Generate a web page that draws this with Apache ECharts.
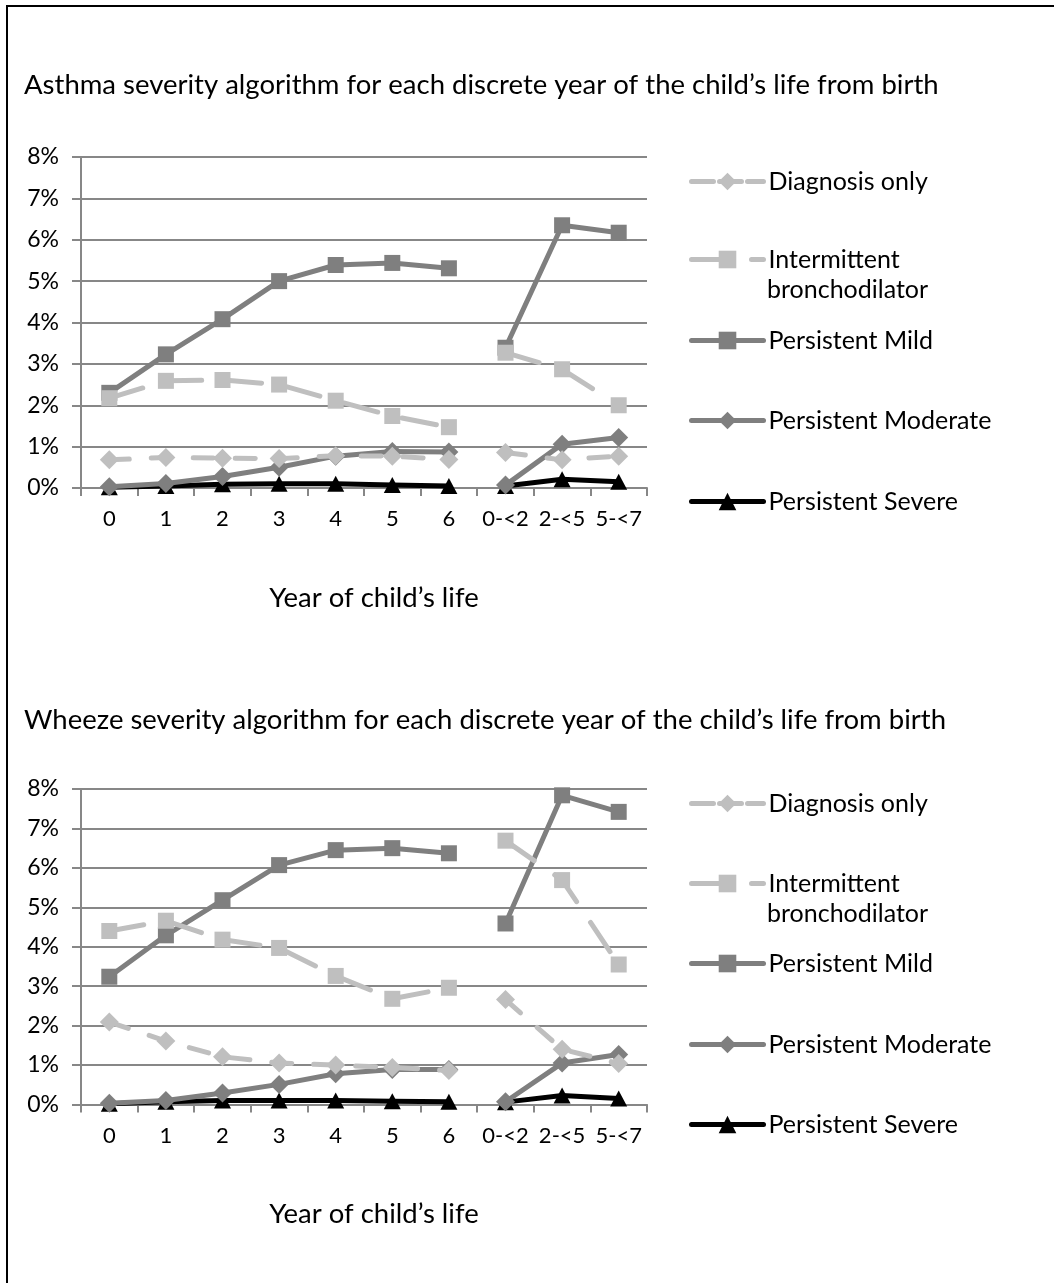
<!DOCTYPE html>
<html><head><meta charset="utf-8">
<script src="https://cdn.jsdelivr.net/npm/echarts@6/dist/echarts.min.js"></script>
<style>
html,body{margin:0;padding:0;background:#fff;overflow:hidden;}
#frame{position:absolute;left:6px;top:5px;width:1200px;height:1400px;border-left:2px solid #000;border-top:2px solid #000;}
#chart{position:absolute;left:0;top:0;width:1054px;height:1283px;}
</style></head><body>
<div id="frame"></div><div id="chart"></div>
<script>
// ---- data ----
const categories = ['0', '1', '2', '3', '4', '5', '6', '0-<2', '2-<5', '5-<7'];
const yTickValues = [0, 1, 2, 3, 4, 5, 6, 7, 8];
const seriesNames = ['Diagnosis only', 'Intermittent bronchodilator', 'Persistent Mild', 'Persistent Moderate', 'Persistent Severe'];
const chartTitles = ['Asthma severity algorithm for each discrete year of the child\u2019s life from birth',
                     'Wheeze severity algorithm for each discrete year of the child\u2019s life from birth'];
const xAxisTitle = 'Year of child\u2019s life';

const asthmaDiagnosisOnly = [0.68, 0.74, 0.72, 0.71, 0.78, 0.77, 0.69, 0.86, 0.68, 0.77];
const asthmaIntermittent  = [2.17, 2.59, 2.61, 2.50, 2.11, 1.74, 1.47, 3.27, 2.87, 2.00];
const asthmaMild          = [2.30, 3.23, 4.08, 5.00, 5.39, 5.44, 5.31, 3.39, 6.35, 6.17];
const asthmaModerate      = [0.03, 0.11, 0.28, 0.50, 0.77, 0.88, 0.87, 0.07, 1.06, 1.22];
const asthmaSevere        = [0.02, 0.05, 0.09, 0.10, 0.10, 0.07, 0.05, 0.05, 0.21, 0.15];

const wheezeDiagnosisOnly = [2.09, 1.61, 1.21, 1.05, 1.00, 0.94, 0.86, 2.66, 1.40, 1.04];
const wheezeIntermittent  = [4.40, 4.66, 4.18, 3.97, 3.26, 2.68, 2.96, 6.69, 5.69, 3.55];
const wheezeMild          = [3.24, 4.29, 5.18, 6.07, 6.45, 6.50, 6.37, 4.59, 7.84, 7.42];
const wheezeModerate      = [0.03, 0.10, 0.29, 0.51, 0.78, 0.89, 0.89, 0.07, 1.05, 1.27];
const wheezeSevere        = [0.02, 0.07, 0.10, 0.10, 0.10, 0.08, 0.07, 0.06, 0.23, 0.15];

// ---- styles ----
const FONT = 'Lato';
const LIGHT = '#bfbfbf', DARK = '#7f7f7f', BLACK = '#000000';
const styles = [
  {color: LIGHT, symbol: 'diamond', size: [19, 19], dash: [20, 22]},
  {color: LIGHT, symbol: 'rect', size: [16, 16], dash: [35, 25]},
  {color: DARK, symbol: 'rect', size: [16, 16], dash: 'solid'},
  {color: DARK, symbol: 'diamond', size: [19, 19], dash: 'solid'},
  {color: BLACK, symbol: 'triangle', size: [17, 16], dash: 'solid'}
];
const legendDash = [[22, 6], [42, 18], 'solid', 'solid', 'solid'];

const grids = [
  {left: 81, top: 157, width: 566, height: 331},
  {left: 81, top: 789, width: 566, height: 315.5}
];
const titleCenters = [87, 722];
const legendCenters = [[180, 258, 339, 419, 500], [802, 882, 962, 1043, 1123]];
const secondLineCenters = [292, 916];

const chartData = [
  [asthmaDiagnosisOnly, asthmaIntermittent, asthmaMild, asthmaModerate, asthmaSevere],
  [wheezeDiagnosisOnly, wheezeIntermittent, wheezeMild, wheezeModerate, wheezeSevere]
];

const option = {
  animation: false,
  backgroundColor: 'transparent',
  textStyle: {fontFamily: FONT},
  title: [], grid: [], xAxis: [], yAxis: [], series: [], legend: [], graphic: []
};

const split = (arr, part) => arr.map((v, i) => (part === 0 ? (i < 7 ? v : '-') : (i >= 7 ? v : '-')));
const LEG_H = 22;

for (let c = 0; c < 2; c++) {
  option.title.push({
    text: chartTitles[c], left: 24, top: titleCenters[c] - 16, padding: 0,
    textStyle: {fontFamily: FONT, fontSize: 27.5, fontWeight: 'normal', color: '#000'}
  });
  option.grid.push(grids[c]);
  option.xAxis.push({
    type: 'category', gridIndex: c, data: categories, boundaryGap: true,
    axisLine: {lineStyle: {color: '#878787', width: 2}},
    axisTick: {show: true, interval: 0, length: 8, lineStyle: {color: '#878787', width: 2}},
    axisLabel: {interval: 0, margin: 20, color: '#000', fontFamily: FONT, fontSize: 22},
    name: xAxisTitle, nameLocation: 'middle', nameGap: 96,
    nameTextStyle: {color: '#000', fontFamily: FONT, fontSize: 27.5, padding: [0, 0, 0, 20]}
  });
  option.yAxis.push({
    type: 'value', gridIndex: c, min: yTickValues[0], max: yTickValues[yTickValues.length - 1], interval: 1,
    axisLine: {show: true, lineStyle: {color: '#878787', width: 2}},
    axisTick: {show: true, length: 9, lineStyle: {color: '#878787', width: 2}},
    splitLine: {show: true, lineStyle: {color: '#878787', width: 2}},
    axisLabel: {formatter: '{value}%', margin: 22, color: '#000', fontFamily: FONT, fontSize: 23}
  });
  for (let s = 0; s < 5; s++) {
    const st = styles[s];
    for (let part = 0; part < 2; part++) {
      option.series.push({
        type: 'line', name: seriesNames[s], xAxisIndex: c, yAxisIndex: c,
        data: split(chartData[c][s], part),
        symbol: st.symbol, symbolSize: st.size, showSymbol: true, showAllSymbol: true,
        connectNulls: false, z: 10 - s,
        itemStyle: {color: st.color},
        lineStyle: {color: st.color, width: 5, type: st.dash, cap: 'round', join: 'round'}
      });
    }
    option.legend.push({
      data: [seriesNames[s]], left: 689, top: legendCenters[c][s] - LEG_H / 2, padding: 0,
      itemWidth: 72, itemHeight: LEG_H, selectedMode: false,
      lineStyle: {width: 5, color: st.color, type: legendDash[s], cap: 'round'},
      itemStyle: {color: st.color},
      formatter: (name) => (name === 'Intermittent bronchodilator' ? 'Intermittent' : name),
      textStyle: {color: '#000', fontFamily: FONT, fontSize: 25}
    });
  }
  option.graphic.push({
    type: 'text', left: 767, top: secondLineCenters[c] - 15,
    style: {text: 'bronchodilator', fill: '#000', font: '25px ' + FONT}
  });
}

const chart = echarts.init(document.getElementById('chart'), null, {renderer: 'canvas'});
chart.setOption(option);
</script>
</body></html>
